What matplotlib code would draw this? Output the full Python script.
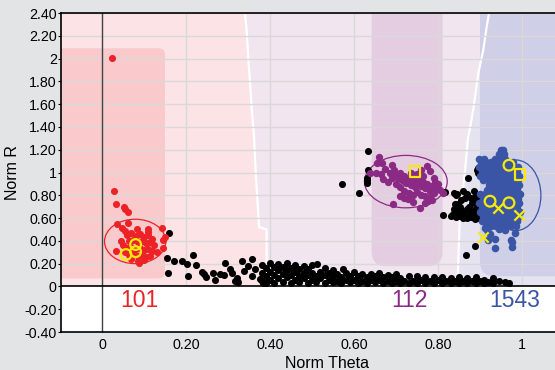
import numpy as np
import matplotlib.pyplot as plt
from matplotlib.patches import Ellipse, FancyBboxPatch

plt.rcParams['font.family'] = ['Liberation Sans', 'DejaVu Sans']

# ------------------------------------------------------------
# data
# ------------------------------------------------------------

red_pts = np.array([
    [0.023, 2.006], [0.029, 0.84], [0.033, 0.725], [0.053, 0.70], [0.055, 0.68],
    [0.062, 0.65], [0.036, 0.55], [0.047, 0.51], [0.063, 0.555], [0.084, 0.50],
    [0.109, 0.50], [0.142, 0.51], [0.146, 0.41], [0.150, 0.43], [0.145, 0.34],
    [0.033, 0.31], [0.060, 0.45], [0.070, 0.47], [0.080, 0.44], [0.090, 0.46],
    [0.100, 0.43], [0.110, 0.45], [0.120, 0.42], [0.065, 0.40], [0.075, 0.41],
    [0.085, 0.39], [0.095, 0.40], [0.105, 0.38], [0.115, 0.39], [0.125, 0.36],
    [0.050, 0.36], [0.060, 0.34], [0.070, 0.35], [0.080, 0.33], [0.090, 0.34],
    [0.100, 0.32], [0.110, 0.33], [0.120, 0.31], [0.130, 0.30], [0.055, 0.30],
    [0.065, 0.28], [0.075, 0.29], [0.085, 0.27], [0.095, 0.28], [0.105, 0.26],
    [0.115, 0.27], [0.070, 0.24], [0.085, 0.22], [0.100, 0.23], [0.087, 0.21],
    [0.045, 0.40], [0.110, 0.48], [0.055, 0.49],
])

purple_pts = np.array([
    [0.660, 1.138], [0.666, 1.085], [0.655, 1.085], [0.652, 0.997], [0.638, 0.997],
    [0.690, 1.070], [0.694, 0.720], [0.757, 0.690], [0.773, 1.055], [0.781, 1.010],
    [0.777, 0.750], [0.805, 0.850], [0.813, 0.820], [0.793, 0.920], [0.670, 0.940],
    [0.710, 0.790], [0.729, 0.770], [0.675, 1.030], [0.685, 1.000], [0.695, 1.020],
    [0.700, 0.980], [0.710, 1.000], [0.705, 0.950], [0.715, 0.930], [0.720, 0.970],
    [0.725, 0.910], [0.730, 0.950], [0.735, 0.890], [0.740, 0.930], [0.745, 0.870],
    [0.750, 0.910], [0.755, 0.950], [0.760, 0.880], [0.765, 0.920], [0.770, 0.860],
    [0.775, 0.900], [0.780, 0.840], [0.785, 0.880], [0.790, 0.820], [0.795, 0.860],
    [0.700, 0.900], [0.710, 0.870], [0.720, 0.840], [0.730, 0.820], [0.740, 0.800],
    [0.750, 0.830], [0.760, 0.800], [0.770, 0.790], [0.780, 0.780], [0.690, 0.950],
    [0.680, 0.920], [0.665, 0.990], [0.735, 1.000], [0.750, 0.990], [0.765, 0.970],
    [0.760, 1.020], [0.790, 0.950], [0.800, 0.900], [0.720, 0.780], [0.740, 0.740],
    [0.770, 0.730], [0.785, 0.760],
])

blue_pts = np.array([
    [0.950, 1.20], [0.955, 1.20], [0.945, 1.16], [0.957, 1.16],
    [0.898, 1.12], [0.910, 1.12], [0.935, 1.12], [0.948, 1.12], [0.960, 1.12],
    [0.903, 1.09], [0.915, 1.09], [0.927, 1.09], [0.940, 1.09], [0.952, 1.09], [0.965, 1.09], [0.978, 1.09],
    [0.898, 1.05], [0.910, 1.05], [0.922, 1.05], [0.934, 1.05], [0.946, 1.05], [0.958, 1.05], [0.970, 1.05], [0.982, 1.05], [0.990, 1.05],
    [0.904, 1.01], [0.916, 1.01], [0.928, 1.01], [0.940, 1.01], [0.952, 1.01], [0.964, 1.01], [0.976, 1.01], [0.988, 1.01],
    [0.900, 0.97], [0.912, 0.97], [0.924, 0.97], [0.936, 0.97], [0.948, 0.97], [0.960, 0.97], [0.972, 0.97], [0.984, 0.97], [0.994, 0.97],
    [0.906, 0.93], [0.918, 0.93], [0.930, 0.93], [0.942, 0.93], [0.954, 0.93], [0.966, 0.93], [0.978, 0.93], [0.990, 0.93],
    [0.922, 0.89], [0.934, 0.89], [0.946, 0.89], [0.958, 0.89], [0.970, 0.89], [0.982, 0.89], [0.994, 0.89],
    [0.916, 0.85], [0.928, 0.85], [0.940, 0.85], [0.952, 0.85], [0.964, 0.85], [0.976, 0.85], [0.988, 0.85],
    [0.900, 0.81], [0.912, 0.81], [0.924, 0.81], [0.936, 0.81], [0.948, 0.81], [0.960, 0.81], [0.972, 0.81], [0.984, 0.81], [0.996, 0.81],
    [0.906, 0.77], [0.918, 0.77], [0.930, 0.77], [0.942, 0.77], [0.954, 0.77], [0.966, 0.77], [0.978, 0.77], [0.990, 0.77],
    [0.898, 0.73], [0.910, 0.73], [0.922, 0.73], [0.934, 0.73], [0.946, 0.73], [0.958, 0.73], [0.970, 0.73], [0.982, 0.73], [0.994, 0.73],
    [0.904, 0.69], [0.916, 0.69], [0.928, 0.69], [0.940, 0.69], [0.952, 0.69], [0.964, 0.69], [0.976, 0.69], [0.988, 0.69],
    [0.900, 0.65], [0.912, 0.65], [0.924, 0.65], [0.936, 0.65], [0.948, 0.65], [0.960, 0.65], [0.972, 0.65], [0.984, 0.65], [0.996, 0.65],
    [0.906, 0.61], [0.918, 0.61], [0.930, 0.61], [0.942, 0.61], [0.954, 0.61], [0.966, 0.61], [0.978, 0.61], [0.990, 0.61],
    [0.904, 0.57], [0.916, 0.57], [0.928, 0.57], [0.940, 0.57], [0.952, 0.57], [0.964, 0.57], [0.976, 0.57], [0.988, 0.57],
    [0.914, 0.53], [0.926, 0.53], [0.938, 0.53], [0.950, 0.53], [0.962, 0.53], [0.974, 0.53], [0.986, 0.53],
    [0.916, 0.494], [0.912, 0.515], [0.924, 0.456], [0.920, 0.41], [0.936, 0.418], [0.936, 0.34],
    [0.975, 0.41], [0.977, 0.39], [0.977, 0.35], [0.983, 0.47], [0.960, 0.494], [0.945, 0.50],
])

black_pts = np.array([
    # tail leaving the 101 group
    [0.160, 0.465], [0.154, 0.250], [0.171, 0.220], [0.190, 0.220], [0.202, 0.200],
    [0.216, 0.280], [0.225, 0.190], [0.157, 0.120], [0.204, 0.090], [0.237, 0.130],
    [0.243, 0.110], [0.248, 0.085], [0.265, 0.120], [0.280, 0.110], [0.290, 0.100],
    [0.293, 0.208], [0.305, 0.150], [0.310, 0.120], [0.317, 0.047], [0.325, 0.040],
    [0.322, 0.076], [0.333, 0.222], [0.337, 0.135], [0.348, 0.178], [0.356, 0.237],
    [0.357, 0.090], [0.365, 0.150], [0.376, 0.065], [0.384, 0.030], [0.270, 0.060],
    # dense band
    [0.380, 0.05], [0.380, 0.12], [0.380, 0.19], [0.390, 0.09], [0.390, 0.16], [0.390, 0.03],
    [0.400, 0.06], [0.400, 0.13], [0.400, 0.21], [0.410, 0.10], [0.410, 0.17], [0.410, 0.03],
    [0.420, 0.07], [0.420, 0.14], [0.420, 0.20], [0.430, 0.04], [0.430, 0.11], [0.430, 0.17],
    [0.440, 0.08], [0.440, 0.14], [0.440, 0.21], [0.450, 0.03], [0.450, 0.10], [0.450, 0.16],
    [0.460, 0.06], [0.460, 0.13], [0.460, 0.19], [0.470, 0.04], [0.470, 0.09], [0.470, 0.15],
    [0.480, 0.07], [0.480, 0.12], [0.480, 0.18], [0.490, 0.03], [0.490, 0.10], [0.490, 0.15],
    [0.500, 0.06], [0.500, 0.12], [0.500, 0.19], [0.510, 0.04], [0.510, 0.09], [0.511, 0.20],
    [0.520, 0.07], [0.520, 0.13], [0.530, 0.03], [0.530, 0.10], [0.530, 0.16], [0.540, 0.06],
    [0.540, 0.12], [0.550, 0.04], [0.550, 0.09], [0.550, 0.14], [0.560, 0.05], [0.560, 0.11],
    [0.570, 0.03], [0.570, 0.08], [0.575, 0.15], [0.580, 0.06], [0.580, 0.12], [0.590, 0.04],
    [0.590, 0.09], [0.600, 0.06], [0.600, 0.13], [0.610, 0.03], [0.610, 0.09], [0.620, 0.05],
    [0.620, 0.11], [0.630, 0.03], [0.630, 0.08], [0.640, 0.06], [0.640, 0.11], [0.650, 0.04],
    [0.650, 0.09], [0.660, 0.06], [0.660, 0.12], [0.670, 0.03], [0.670, 0.08], [0.680, 0.05],
    [0.680, 0.10], [0.690, 0.03], [0.690, 0.08], [0.700, 0.05], [0.700, 0.11], [0.710, 0.03],
    [0.710, 0.07], [0.720, 0.05], [0.730, 0.03], [0.730, 0.09], [0.740, 0.05], [0.750, 0.03],
    [0.750, 0.09], [0.760, 0.06], [0.770, 0.03], [0.770, 0.08], [0.780, 0.05], [0.790, 0.03],
    [0.790, 0.08], [0.800, 0.06], [0.810, 0.03], [0.810, 0.08], [0.820, 0.05], [0.830, 0.03],
    [0.830, 0.07], [0.840, 0.05], [0.850, 0.03], [0.850, 0.08], [0.860, 0.05], [0.870, 0.03],
    [0.870, 0.07], [0.880, 0.05], [0.890, 0.03], [0.890, 0.08], [0.900, 0.05], [0.910, 0.03],
    [0.910, 0.06], [0.920, 0.04], [0.930, 0.03], [0.930, 0.07], [0.945, 0.05], [0.960, 0.035],
    [0.968, 0.030],
    # around 112 and between 112 and 1543
    [0.633, 1.19], [0.633, 1.02], [0.630, 0.95], [0.631, 0.93], [0.630, 0.91],
    [0.571, 0.90], [0.613, 0.82], [0.817, 0.827], [0.843, 0.80], [0.840, 0.72],
    [0.845, 0.70], [0.838, 0.68], [0.813, 0.63], [0.872, 0.953], [0.894, 1.026],
    [0.896, 1.00], [0.859, 0.84], [0.845, 0.807], [0.886, 0.84], [0.896, 1.04],
    [0.837, 0.82], [0.888, 0.354], [0.866, 0.272],
    [0.830, 0.62], [0.836, 0.64], [0.842, 0.61], [0.848, 0.65], [0.852, 0.62],
    [0.858, 0.66], [0.862, 0.63], [0.868, 0.60], [0.872, 0.65], [0.878, 0.61],
    [0.883, 0.63], [0.888, 0.59], [0.893, 0.62], [0.898, 0.60], [0.853, 0.70],
    [0.848, 0.72], [0.875, 0.70], [0.880, 0.73], [0.885, 0.77], [0.878, 0.78],
    [0.892, 0.70], [0.897, 0.74], [0.890, 0.80], [0.865, 0.78], [0.870, 0.81],
    [0.855, 0.76], [0.882, 0.67], [0.890, 0.66], [0.897, 0.65], [0.868, 0.68],
    [0.900, 0.78], [0.840, 0.66], [0.860, 0.60],
])

# yellow markers per group
circles_x = [0.080, 0.057, 0.080, 0.969, 0.924, 0.969]
circles_y = [0.368, 0.280, 0.305, 1.064, 0.748, 0.734]
squares_x = [0.745, 0.995]
squares_y = [1.010, 0.980]
crosses_x = [0.944, 0.993, 0.906]
crosses_y = [0.690, 0.630, 0.430]

# group ellipses: centre x, centre y, width, height
ell_101 = (0.079, 0.395, 0.146, 0.39)
ell_112 = (0.7235, 0.92, 0.197, 0.46)
ell_1543 = (0.985, 0.80, 0.12, 0.62)

group_names = ["101", "112", "1543"]
group_label_x = [0.088, 0.733, 0.983]

# region boundaries (y, x)
bound1_y = [2.45, 2.27, 1.96, 1.77, 1.58, 1.32, 1.00, 0.52, 0.50, -0.01]
bound1_x = [0.339, 0.344, 0.349, 0.353, 0.356, 0.362, 0.366, 0.374, 0.392, 0.392]
bound2_y = [2.45, 2.28, 2.08, 1.87, 1.55, 1.29, 1.00, 0.61, -0.01]
bound2_x = [0.924, 0.916, 0.908, 0.896, 0.884, 0.871, 0.864, 0.852, 0.846]

yticks = [-0.4, -0.2, 0, 0.2, 0.4, 0.6, 0.8, 1, 1.2, 1.4, 1.6, 1.8, 2.0, 2.2, 2.4]
xticks = [0, 0.2, 0.4, 0.6, 0.8, 1]

# ------------------------------------------------------------
# colours
# ------------------------------------------------------------
C_RED = "#ec2227"
C_PURPLE = "#8a2a84"
C_BLUE = "#3a55a6"
C_YELLOW = "#f5ea0a"

fig = plt.figure(figsize=(5.55, 3.7), dpi=100, facecolor="#e3e4e6")
ax = fig.add_axes([61 / 555, 38 / 370, 494 / 555, 319 / 370])
XMIN, XMAX = -0.0976, 1.0786
ax.set_xlim(XMIN, XMAX)
ax.set_ylim(-0.4, 2.4)
ax.set_facecolor("white")

# background regions
ax.fill_betweenx(bound1_y, XMIN - 0.1, bound1_x, color="#fce4e6", lw=0, zorder=0)
ax.fill_betweenx(bound1_y, bound1_x, XMAX + 0.1, color="#f1e5ef", lw=0, zorder=0)
ax.fill_betweenx(bound2_y, bound2_x, XMAX + 0.1, color="#e5e3f0", lw=0, zorder=0.1)
ax.plot(bound1_x, bound1_y, color="white", lw=1.6, zorder=0.5)
ax.plot(bound2_x, bound2_y, color="white", lw=1.6, zorder=0.5)

asp = 420 / 114
ax.add_patch(FancyBboxPatch((-0.3, 0.07), 0.45, 2.02,
                            boxstyle="round,pad=0,rounding_size=0.015",
                            mutation_aspect=asp, fc="#f9c9cc", ec="none", zorder=0.3))
ax.add_patch(FancyBboxPatch((0.642, 0.178), 0.169, 2.5,
                            boxstyle="round,pad=0,rounding_size=0.035",
                            mutation_aspect=asp, fc="#e5cde1", ec="none", zorder=0.3))
ax.add_patch(FancyBboxPatch((0.90, 0.09), 0.4, 2.6,
                            boxstyle="round,pad=0,rounding_size=0.035",
                            mutation_aspect=asp, fc="#cfcfe8", ec="none", zorder=0.3))

# white area below zero
ax.axhspan(-0.4, 0, color="white", lw=0, zorder=0.6)

ax.grid(True, color="#d9d9d9", lw=1.0, zorder=0.8)
ax.set_axisbelow(True)
for gl in ax.get_xgridlines() + ax.get_ygridlines():
    gl.set_zorder(0.8)

ax.axvline(0, color="#444444", lw=1.0, zorder=1)
ax.axhline(0, color="black", lw=1.2, zorder=1)

# ellipses
for (cx, cy, w, h), col in zip([ell_101, ell_112, ell_1543], [C_RED, C_PURPLE, C_BLUE]):
    ax.add_patch(Ellipse((cx, cy), w, h, fill=False, ec=col, lw=0.9, zorder=1.5))

# points
ax.scatter(black_pts[:, 0], black_pts[:, 1], s=26, color="black", lw=0, zorder=2)
ax.scatter(red_pts[:, 0], red_pts[:, 1], s=26, color=C_RED, lw=0, zorder=3)
ax.scatter(purple_pts[:, 0], purple_pts[:, 1], s=28, color=C_PURPLE, lw=0, zorder=3)
ax.scatter(blue_pts[:, 0], blue_pts[:, 1], s=30, color=C_BLUE, lw=0, zorder=3)

ax.scatter(circles_x, circles_y, s=60, facecolors="none", edgecolors=C_YELLOW, lw=1.6, zorder=4)
ax.scatter(squares_x, squares_y, s=60, marker="s", facecolors="none", edgecolors=C_YELLOW, lw=1.6, zorder=4)
ax.scatter(crosses_x, crosses_y, s=55, marker="x", color=C_YELLOW, lw=1.6, zorder=4)

# group labels
for name, gx, col in zip(group_names, group_label_x, [C_RED, C_PURPLE, C_BLUE]):
    ax.text(gx, -0.12, name, color=col, fontsize=16.5, ha="center", va="center", zorder=5)

# axes
ax.set_xticks(xticks)
ax.set_yticks(yticks)
fmt = lambda v: "%d" % v if float(v).is_integer() else "%.2f" % v
ax.set_xticklabels([fmt(v) for v in xticks], fontsize=10.3)
ax.set_yticklabels([fmt(v) for v in yticks], fontsize=10.3)
ax.tick_params(axis="x", direction="in", length=3, color="black", pad=4.5)
ax.tick_params(axis="y", direction="out", length=2, color="black", pad=1)

ax.spines["right"].set_visible(False)
for side in ["left", "bottom", "top"]:
    ax.spines[side].set_color("black")
    ax.spines[side].set_linewidth(1.2)

ax.set_xlabel("Norm Theta", fontsize=11.5)
ax.xaxis.set_label_coords(0.538, -0.076)
ax.set_ylabel("Norm R", fontsize=11.5)
ax.yaxis.set_label_coords(-0.082, 0.5)

fig.savefig("out.png", dpi=100, facecolor=fig.get_facecolor())
